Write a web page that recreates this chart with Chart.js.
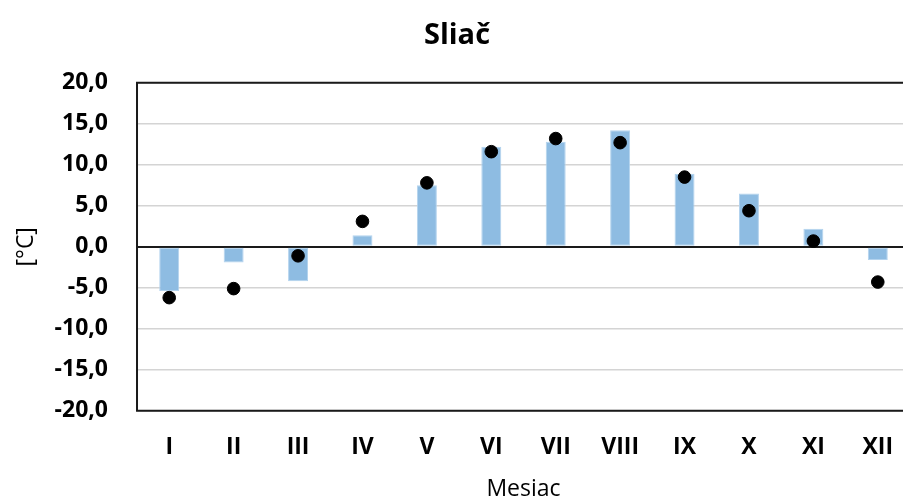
<!DOCTYPE html>
<html>
<head>
<meta charset="utf-8">
<script src="https://cdn.jsdelivr.net/npm/chart.js@4/dist/chart.umd.min.js"></script>
<style>
  html, body { margin: 0; padding: 0; background: #fff; overflow: hidden; }
  #wrap { width: 903px; height: 503px; overflow: hidden; }
  #box { width: 926px; height: 503px; }
</style>
</head>
<body>
<div id="wrap"><div id="box"><canvas id="graf"></canvas></div></div>
<script>
const mesiace = ['I', 'II', 'III', 'IV', 'V', 'VI', 'VII', 'VIII', 'IX', 'X', 'XI', 'XII'];
const stlpce = [-5.4, -1.9, -4.2, 1.4, 7.5, 12.2, 12.8, 14.2, 8.9, 6.5, 2.2, -1.6];
const body = [-6.2, -5.1, -1.1, 3.1, 7.8, 11.6, 13.2, 12.7, 8.5, 4.4, 0.7, -4.3];

const pismo = '"Open Sans", sans-serif';

// ramik okolo plochy grafu (vpravo je odrezany)
const ramik = {
    id: 'ramik',
    afterDatasetsDraw(chart) {
        const a = chart.chartArea;
        const c = chart.ctx;
        c.save();
        c.strokeStyle = '#1a1a1a';
        c.lineWidth = 2;
        c.beginPath();
        c.moveTo(a.right + 5, a.top);
        c.lineTo(a.left, a.top);
        c.lineTo(a.left, a.bottom);
        c.lineTo(a.right + 5, a.bottom);
        c.stroke();
        c.restore();
    }
};

new Chart(document.getElementById('graf'), {
    data: {
        labels: mesiace,
        datasets: [{
            type: 'line',
            data: body,
            showLine: false,
            pointRadius: 6.3,
            pointHoverRadius: 6.3,
            pointBackgroundColor: '#000',
            pointBorderColor: '#000',
            order: 1
        }, {
            type: 'bar',
            data: stlpce,
            backgroundColor: '#8EBCE2',
            borderColor: '#B3D3EE',
            borderWidth: 1,
            borderSkipped: false,
            barPercentage: 0.31,
            categoryPercentage: 1,
            order: 2
        }]
    },
    options: {
        responsive: true,
        maintainAspectRatio: false,
        animation: false,
        layout: { padding: { left: 4, right: 16, top: 0, bottom: 0 } },
        plugins: {
            legend: { display: false },
            tooltip: { enabled: false },
            title: {
                display: true,
                text: 'Sliač',
                color: '#000',
                font: { family: pismo, size: 29, weight: 'bold' },
                padding: { top: 18, bottom: 30 }
            }
        },
        scales: {
            x: {
                grid: { color: 'transparent', tickColor: 'transparent', drawTicks: true, tickLength: 19 },
                border: { display: false },
                ticks: {
                    color: '#000',
                    padding: 4,
                    font: { family: pismo, size: 23, weight: 'bold' }
                },
                title: {
                    display: true,
                    text: 'Mesiac',
                    color: '#000',
                    font: { family: pismo, size: 23 },
                    padding: { top: 10, bottom: 0 }
                }
            },
            y: {
                min: -20,
                max: 20,
                ticks: {
                    stepSize: 5,
                    color: '#000',
                    padding: 4,
                    font: { family: pismo, size: 23, weight: 'bold' },
                    callback: v => v.toFixed(1).replace('.', ',')
                },
                grid: {
                    drawTicks: true,
                    tickLength: 25,
                    tickColor: 'transparent',
                    color: ctx => ctx.tick.value === 0 ? '#1a1a1a' : '#d4d4d4',
                    lineWidth: ctx => ctx.tick.value === 0 ? 2 : 1.5
                },
                border: { display: false },
                title: {
                    display: true,
                    text: '[°C]',
                    color: '#000',
                    font: { family: pismo, size: 23 },
                    padding: { top: 9, bottom: 10 }
                }
            }
        }
    },
    plugins: [ramik]
});
</script>
</body>
</html>
